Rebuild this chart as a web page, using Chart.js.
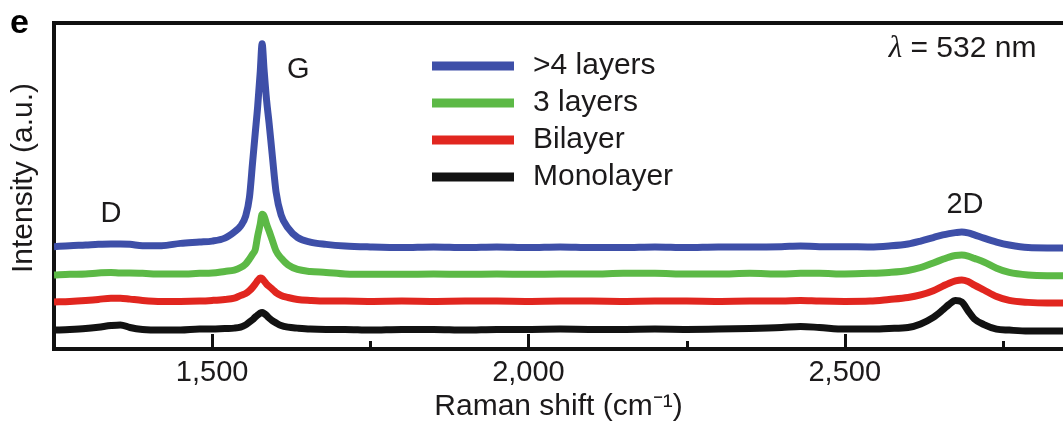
<!DOCTYPE html>
<html>
<head>
<meta charset="utf-8">
<title>Raman spectra of graphene layers</title>
<script src="https://cdn.jsdelivr.net/npm/chart.js@4.4.1/dist/chart.umd.min.js"></script>
<style>
  html, body { margin: 0; padding: 0; background: #ffffff; overflow: hidden; }
  #wrap { width: 1063px; height: 425px; }
</style>
</head>
<body>
<div id="wrap"><canvas id="chart" width="1063" height="425"></canvas></div>
<script>
// Raman shift sampling points (cm^-1)
const ramanShift = [
  1250, 1275, 1300, 1320, 1340, 1355, 1370, 1390, 1420, 1450,
  1480, 1500, 1520, 1535, 1545, 1553, 1559, 1564, 1568, 1572,
  1576, 1579, 1582, 1586, 1590, 1595, 1601, 1609, 1620, 1635,
  1655, 1680, 1710, 1750, 1800, 1850, 1900, 1950, 2000, 2050,
  2100, 2150, 2200, 2250, 2300, 2350, 2400, 2430, 2460, 2500,
  2540, 2570, 2600, 2620, 2640, 2655, 2665, 2675, 2685, 2695,
  2705, 2720, 2740, 2760, 2790, 2820, 2845
];

// Intensity (a.u.), spectra stacked with an offset
const multilayer = [
  31.4, 31.7, 31.9, 32.1, 32.2, 32.2, 32.1, 31.7, 31.7, 32.4,
  32.8, 33.1, 34.0, 35.9, 37.7, 40.8, 46.6, 57.4, 66.0, 74.5,
  85.0, 93.6, 85.9, 76.4, 69.3, 59.5, 48.2, 41.1, 37.1, 34.2,
  32.8, 32.1, 31.6, 31.3, 31.1, 31.3, 31.1, 31.3, 31.1, 31.3,
  31.1, 31.1, 31.3, 31.1, 31.3, 31.3, 31.4, 31.6, 31.4, 31.4,
  31.3, 31.6, 32.2, 33.1, 34.2, 35.0, 35.4, 35.7, 35.9, 35.6,
  35.0, 34.0, 32.8, 31.9, 31.1, 31.0, 31.0
];
const threeLayer = [
  22.7, 22.9, 23.0, 23.3, 23.5, 23.3, 23.3, 23.2, 23.0, 23.0,
  23.2, 23.3, 23.8, 24.2, 25.0, 26.1, 27.6, 29.1, 30.4, 34.7,
  38.3, 41.3, 40.8, 38.3, 36.2, 33.4, 30.1, 27.9, 25.8, 24.4,
  23.8, 23.5, 23.0, 22.9, 22.9, 23.0, 22.9, 23.0, 22.9, 23.0,
  23.0, 23.2, 23.2, 23.0, 23.0, 23.2, 23.0, 23.2, 23.2, 23.0,
  23.2, 23.5, 24.1, 25.0, 26.4, 27.5, 28.2, 28.7, 28.8, 28.5,
  27.8, 26.7, 24.8, 23.5, 22.7, 22.5, 22.5
];
const bilayer = [
  14.4, 14.6, 14.9, 15.2, 15.6, 15.6, 15.3, 14.9, 14.6, 14.6,
  14.7, 14.9, 15.2, 15.6, 16.4, 17.0, 17.9, 18.9, 19.9, 21.0,
  21.8, 21.6, 20.9, 19.9, 19.2, 18.4, 17.3, 16.4, 15.8, 15.2,
  14.9, 14.7, 14.7, 14.6, 14.7, 14.6, 14.7, 14.7, 14.6, 14.7,
  14.7, 14.6, 14.7, 14.7, 14.6, 14.7, 14.7, 14.9, 14.7, 14.6,
  14.7, 15.2, 15.8, 16.6, 17.9, 19.3, 20.2, 20.9, 21.2, 20.7,
  19.6, 18.1, 16.1, 14.9, 14.3, 14.1, 14.1
];
const monolayer = [
  5.8, 6.0, 6.3, 6.7, 7.2, 7.4, 6.6, 6.0, 5.8, 5.8,
  6.1, 6.1, 6.3, 6.4, 6.7, 7.4, 8.3, 9.0, 9.8, 10.4,
  11.0, 11.2, 10.9, 10.3, 9.5, 8.7, 8.0, 7.2, 6.7, 6.4,
  6.1, 6.0, 6.0, 5.8, 6.0, 6.0, 5.8, 6.0, 6.0, 6.1,
  6.0, 6.0, 6.1, 6.0, 6.1, 6.3, 6.6, 6.9, 6.6, 6.1,
  6.1, 6.3, 6.6, 7.7, 9.7, 12.0, 13.7, 14.9, 14.4, 11.7,
  9.2, 7.5, 6.1, 5.8, 5.5, 5.5, 5.5
];

const seriesLabels = ['>4 layers', '3 layers', 'Bilayer', 'Monolayer'];
const majorTicks = [1500, 2000, 2500];
const minorTicks = [1750, 2250, 2750];

// Styling
const FONT = "'Liberation Sans', Arial, Helvetica, sans-serif";
const INK = '#1c1a1b';
const AXIS = '#111111';
const seriesColors = ['#3e4fa8', '#5cb946', '#e1261f', '#121212'];

const series = [multilayer, threeLayer, bilayer, monolayer];
const datasets = series.map((values, i) => ({
  label: seriesLabels[i],
  data: ramanShift.map((shift, j) => ({ x: shift, y: values[j] })),
  borderColor: seriesColors[i],
  backgroundColor: seriesColors[i],
  borderWidth: 7,
  pointRadius: 0,
  fill: false,
  cubicInterpolationMode: 'monotone',
  borderJoinStyle: 'round'
}));

// Peak names placed at (shift, intensity)
const peakNotes = [
  { text: 'D', shift: 1340, level: 39.0 },
  { text: 'G', shift: 1636, level: 83.1 },
  { text: '2D', shift: 2690, level: 41.8 }
];

const overlay = {
  id: 'overlay',
  afterDatasetsDraw(chart) {
    const { ctx, chartArea: a, scales: { x, y } } = chart;
    ctx.save();

    // inward tick marks on the bottom axis
    ctx.strokeStyle = AXIS;
    ctx.lineWidth = 3;
    [[majorTicks, 15], [minorTicks, 8]].forEach(([vals, len]) => {
      vals.forEach(v => {
        const px = Math.round(x.getPixelForValue(v)) + 0.5;
        ctx.beginPath();
        ctx.moveTo(px, a.bottom);
        ctx.lineTo(px, a.bottom - len);
        ctx.stroke();
      });
    });

    // peak names
    ctx.fillStyle = INK;
    ctx.font = '29px ' + FONT;
    ctx.textAlign = 'center';
    ctx.textBaseline = 'alphabetic';
    peakNotes.forEach(n => {
      ctx.fillText(n.text, x.getPixelForValue(n.shift), y.getPixelForValue(n.level));
    });

    // excitation wavelength
    const rest = ' = 532 nm';
    const right = x.getPixelForValue(2803);
    const base = y.getPixelForValue(89.5);
    ctx.textAlign = 'right';
    ctx.font = '30px ' + FONT;
    ctx.fillText(rest, right, base);
    const w = ctx.measureText(rest).width;
    ctx.font = "italic 31px 'Liberation Serif', 'DejaVu Serif', serif";
    ctx.fillText('\u03bb', right - w, base);

    // legend
    chart.data.datasets.forEach((ds, i) => {
      const ly = a.top + 43 + i * 37;
      ctx.strokeStyle = ds.borderColor;
      ctx.lineWidth = 9;
      ctx.lineCap = 'butt';
      ctx.beginPath();
      ctx.moveTo(432, ly);
      ctx.lineTo(514, ly);
      ctx.stroke();
      ctx.fillStyle = INK;
      ctx.font = '30px ' + FONT;
      ctx.textAlign = 'left';
      ctx.fillText(ds.label, 533, ly + 8);
    });

    // vertical axis title
    ctx.save();
    ctx.translate(24, (a.top + a.bottom) / 2 - 8);
    ctx.rotate(-Math.PI / 2);
    ctx.font = '30px ' + FONT;
    ctx.textAlign = 'center';
    ctx.textBaseline = 'middle';
    ctx.fillStyle = INK;
    ctx.fillText('Intensity (a.u.)', 0, 0);
    ctx.restore();

    // panel letter
    ctx.font = 'bold 34px ' + FONT;
    ctx.textAlign = 'left';
    ctx.fillStyle = '#000000';
    ctx.fillText('e', 10, 33);

    ctx.restore();
  }
};

new Chart(document.getElementById('chart'), {
  type: 'line',
  data: { datasets },
  options: {
    responsive: false,
    animation: false,
    devicePixelRatio: 1,
    layout: { padding: 0 },
    plugins: { legend: { display: false }, tooltip: { enabled: false } },
    scales: {
      x: {
        type: 'linear',
        position: 'bottom',
        min: 1250,
        max: 2845,
        afterFit(s) { s.height = 76; },
        afterBuildTicks(s) {
          s.ticks = majorTicks.concat(minorTicks).sort((p, q) => p - q).map(v => ({ value: v }));
        },
        ticks: {
          autoSkip: false,
          maxRotation: 0,
          padding: 7,
          color: INK,
          font: { family: FONT, size: 29 },
          callback: v => majorTicks.includes(v) ? v.toLocaleString('en-US') : ''
        },
        grid: { display: false, drawTicks: false },
        border: { display: true, width: 4, color: AXIS },
        title: {
          display: true,
          text: 'Raman shift (cm\u207b\u00b9)',
          color: INK,
          font: { family: FONT, size: 30 },
          padding: { top: 0, bottom: 0 }
        }
      },
      xTop: {
        type: 'linear',
        position: 'top',
        min: 1250,
        max: 2845,
        afterFit(s) { s.height = 23; },
        ticks: { display: false },
        grid: { display: false, drawTicks: false },
        border: { display: true, width: 4, color: AXIS }
      },
      y: {
        type: 'linear',
        min: 0,
        max: 100,
        afterFit(s) { s.width = 54; },
        ticks: { display: false },
        grid: { display: false, drawTicks: false },
        border: { display: true, width: 4, color: AXIS }
      }
    }
  },
  plugins: [overlay]
});
</script>
</body>
</html>
